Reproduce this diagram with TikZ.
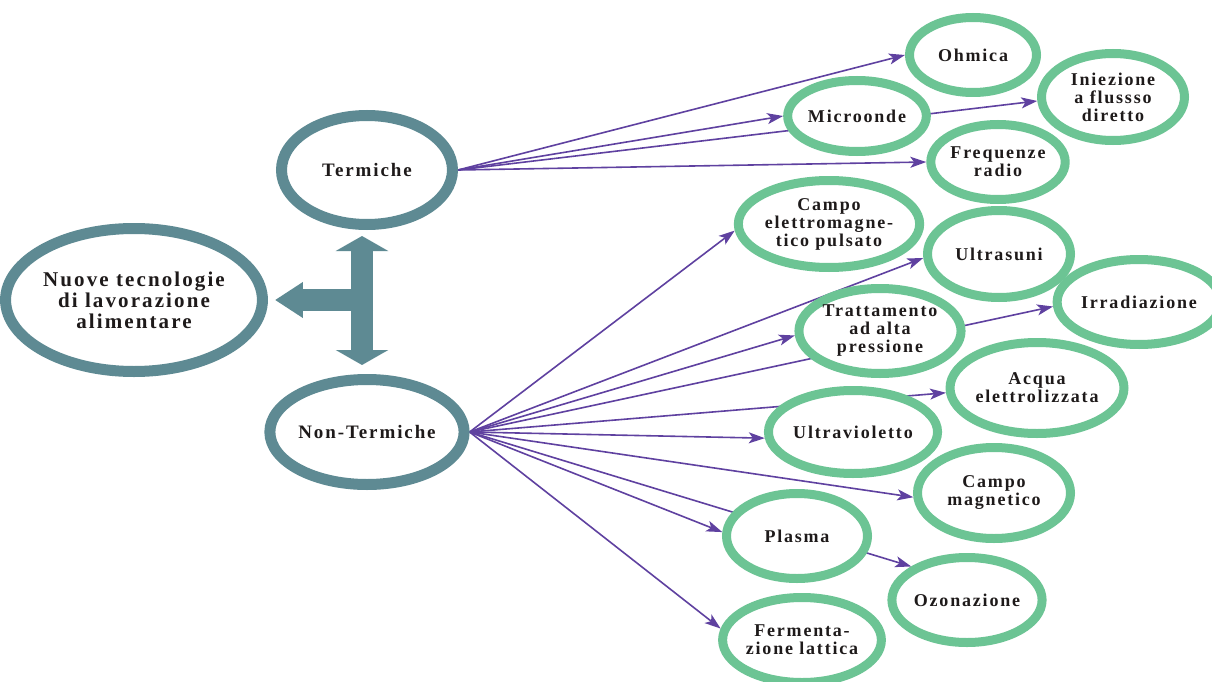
\documentclass[tikz,border=0pt]{standalone}
\usepackage{fontspec}
\setmainfont{Liberation Serif}
\newfontfamily\labfont{Liberation Serif}[LetterSpace=10]
\usetikzlibrary{shapes.geometric,arrows.meta,backgrounds}
\definecolor{ringblue}{HTML}{5E8A93}
\definecolor{ringgreen}{HTML}{6CC494}
\definecolor{arrowpurple}{HTML}{5F41A0}
\definecolor{txt}{HTML}{1E1A1A}
\begin{document}
\begin{tikzpicture}[x=1pt,y=-1pt,
  base/.style={ellipse, fill=white, inner sep=0pt, align=center, text=txt},
  mainnode/.style={base, draw=ringblue, line width=11pt, font={\labfont\bfseries\fontsize{21}{21}\selectfont}},
  bnode/.style={base, draw=ringblue, line width=11pt, font={\labfont\bfseries\fontsize{19}{20}\selectfont}},
  gnode/.style={base, draw=ringgreen, line width=9pt, font={\labfont\bfseries\fontsize{18}{18}\selectfont}},
  link/.style={draw=arrowpurple, line width=1.6pt, -{Stealth[length=16pt,width=11pt,inset=4pt]}},
  fat/.style={draw=ringblue, line width=22pt}
]
\useasboundingbox (0,0) rectangle (1212,682);

% main and category nodes
\node[mainnode, minimum width=233pt, minimum height=143pt] (main) at (134,300) {Nuove tecnologie\\di lavorazione\\alimentare};
\node[bnode, minimum width=171pt, minimum height=109pt] (term) at (367,170) {Termiche};
\node[bnode, minimum width=173pt, minimum height=105pt] (nonterm) at (367,432) {Non-Termiche};

% thermal technologies
\node[gnode, minimum width=127pt, minimum height=75pt] (ohm) at (973,55) {Ohmica};
\node[gnode, minimum width=143pt, minimum height=87pt] (inie) at (1113,97) {Iniezione\\a flussso\\diretto};
\node[gnode, minimum width=133pt, minimum height=71pt] (micro) at (857,116) {Microonde};
\node[gnode, minimum width=127pt, minimum height=75pt] (freq) at (998,162) {Frequenze\\radio};

% non-thermal technologies
\node[gnode, minimum width=143pt, minimum height=87pt] (cem) at (829,224) {Campo\\elettromagne-\\tico pulsato};
\node[gnode, minimum width=143pt, minimum height=87pt] (ultras) at (999,254) {Ultrasuni};
\node[gnode, minimum width=137pt, minimum height=85pt] (irr) at (1139,302) {Irradiazione};
\node[gnode, minimum width=141pt, minimum height=85pt] (tratt) at (880,331) {Trattamento\\ad alta\\pressione};
\node[gnode, minimum width=151pt, minimum height=91pt] (acqua) at (1037,388) {Acqua\\elettrolizzata};
\node[gnode, minimum width=141pt, minimum height=83pt] (uv) at (853,432) {Ultravioletto};
\node[gnode, minimum width=153pt, minimum height=91pt] (cmag) at (994,493) {Campo\\magnetico};
\node[gnode, minimum width=141pt, minimum height=85pt] (plasma) at (797,536) {Plasma};
\node[gnode, minimum width=143pt, minimum height=85pt] (ozo) at (967,600) {Ozonazione};
\node[gnode, minimum width=141pt, minimum height=85pt] (ferm) at (802,640) {Fermenta-\\zione lattica};

% thick T-shaped arrow
\coordinate (vt) at ([shift={(-5,6)}]term.south);
\coordinate (vb) at ([shift={(-5,-9)}]nonterm.north);
\coordinate (hj) at (vt |- main.east);
\coordinate (hl) at ([shift={(7,0)}]main.east);

\begin{scope}[on background layer]
\fill[white] (0,0) rectangle (1212,682);
\draw[fat, {Triangle[length=15pt,width=52pt]}-{Triangle[length=15pt,width=52pt]}] (vt) -- (vb);
\draw[fat, -{Triangle[length=28pt,width=34pt]}] ([shift={(11,0)}]hj) -- (hl);

\draw[link] (term.east) -- (ohm.west);
\draw[link] (term.east) -- (micro.west);
\draw[link] (term.east) -- (inie.183);
\draw[link] (term.east) -- (freq.west);

\draw[link] (nonterm.east) -- (cem.184);
\draw[link] (nonterm.east) -- (ultras.183);
\draw[link] (nonterm.east) -- (tratt.183);
\draw[link] (nonterm.east) -- (irr.183);
\draw[link] (nonterm.east) -- (acqua.183);
\draw[link] (nonterm.east) -- (uv.184);
\draw[link] (nonterm.east) -- (cmag.183);
\draw[link] (nonterm.east) -- (plasma.177);
\draw[link] (nonterm.east) -- (ozo.149);
\draw[link] (nonterm.east) -- (ferm.172);
\end{scope}
\end{tikzpicture}
\end{document}
